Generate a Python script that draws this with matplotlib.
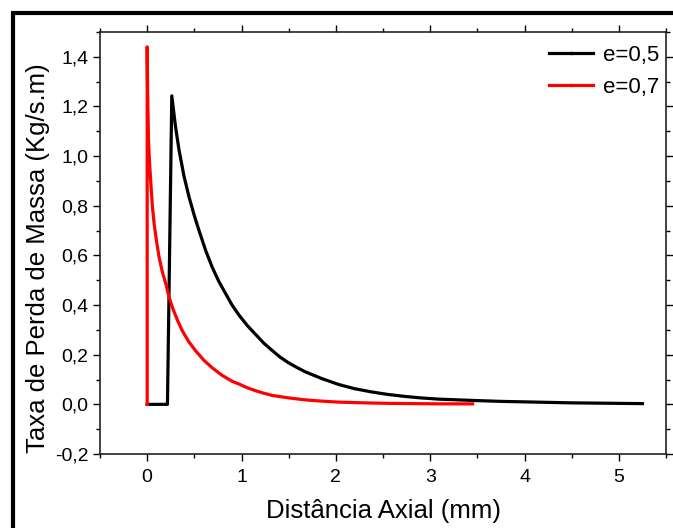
import matplotlib.pyplot as plt
from matplotlib.lines import Line2D
from matplotlib.patches import Rectangle
from matplotlib.ticker import MultipleLocator, FuncFormatter

plt.rcParams["font.family"] = ["Liberation Sans", "DejaVu Sans"]

# e=0,5 (black)
x_05 = [0.0, 0.10, 0.215, 0.238, 0.261, 0.30, 0.338, 0.39, 0.444, 0.50, 0.55, 0.62,
        0.69, 0.76, 0.832, 0.90, 0.973, 1.06, 1.149, 1.235, 1.325, 1.41, 1.50,
        1.59, 1.677, 1.85, 2.03, 2.2, 2.38, 2.55, 2.73, 2.9, 3.09, 3.3, 3.51,
        3.75, 4.0, 4.25, 4.5, 4.75, 5.0, 5.25]
y_05 = [0.0, 0.0, 0.0, 0.62, 1.243, 1.12, 1.024, 0.92, 0.835, 0.76, 0.70, 0.62,
        0.552, 0.495, 0.446, 0.40, 0.36, 0.318, 0.282, 0.247, 0.217, 0.19, 0.167,
        0.148, 0.131, 0.104, 0.08, 0.063, 0.05, 0.04, 0.032, 0.026, 0.021, 0.018,
        0.015, 0.012, 0.01, 0.008, 0.006, 0.005, 0.004, 0.003]

# e=0,7 (red)
x_07 = [0.0, 0.0, 0.005, 0.014, 0.025, 0.039, 0.055, 0.074, 0.10, 0.127, 0.16,
        0.198, 0.23, 0.268, 0.32, 0.373, 0.44, 0.515, 0.60, 0.69, 0.79, 0.90,
        0.973, 1.06, 1.149, 1.235, 1.325, 1.5, 1.677, 1.85, 2.03, 2.3, 2.56,
        2.8, 3.1, 3.45]
y_07 = [0.0, 1.44, 1.26, 1.065, 0.975, 0.889, 0.80, 0.727, 0.655, 0.592, 0.535,
        0.485, 0.435, 0.39, 0.34, 0.296, 0.253, 0.215, 0.178, 0.147, 0.118, 0.093,
        0.082, 0.067, 0.055, 0.045, 0.036, 0.026, 0.018, 0.013, 0.009, 0.006, 0.004,
        0.003, 0.002, 0.002]

labels = ["e=0,5", "e=0,7"]
colors = ["black", "red"]

fig = plt.figure(figsize=(6.73, 5.28), dpi=100)
ax = fig.add_axes([100/673, 74/528, 566/673, 422/528])

ax.plot(x_05, y_05, color=colors[0], lw=2.3, solid_joinstyle="round")
ax.plot(x_07, y_07, color=colors[1], lw=2.3, solid_joinstyle="round")

ax.set_xlim(-0.5, 5.5)
ax.set_ylim(-0.2, 1.5)
ax.xaxis.set_major_locator(MultipleLocator(1))
ax.xaxis.set_minor_locator(MultipleLocator(0.5))
ax.yaxis.set_major_locator(MultipleLocator(0.2))
ax.yaxis.set_minor_locator(MultipleLocator(0.1))
ax.xaxis.set_major_formatter(FuncFormatter(lambda v, p: "%d" % round(v)))
ax.yaxis.set_major_formatter(FuncFormatter(lambda v, p: ("%.1f" % v).replace(".", ",")))

ax.tick_params(which="both", direction="out", labelsize=14)
ax.tick_params(which="major", length=5, width=1)
ax.tick_params(axis="x", which="major", pad=6)
ax.tick_params(which="minor", length=3, width=1)
ax.tick_params(which="both", top=True, right=True, labeltop=False, labelright=False)
for s in ax.spines.values():
    s.set_linewidth(1.2)
    s.set_color("#222222")

ax.set_xlabel("Distância Axial (mm)", fontsize=18.5, labelpad=9)
ax.set_ylabel("Taxa de Perda de Massa (Kg/s.m)", fontsize=18.5)
ax.yaxis.set_label_coords(-0.088, 0.465)

handles = [Line2D([], [], color=c, lw=2.3, marker=".", ms=3) for c in colors]
ax.legend(handles, labels, loc="upper right", bbox_to_anchor=(1.0, 0.985),
          frameon=False, fontsize=16, handlelength=2.0, handletextpad=0.45,
          borderaxespad=0.0, borderpad=0.3, labelspacing=0.5, numpoints=1)

# outer black frame
fig.patches.append(Rectangle((13/673, -0.1), 1.2, (528 - 13)/528 + 0.1,
                             transform=fig.transFigure, fill=False,
                             edgecolor="black", lw=3, zorder=10))

fig.savefig("out.png", dpi=100)
